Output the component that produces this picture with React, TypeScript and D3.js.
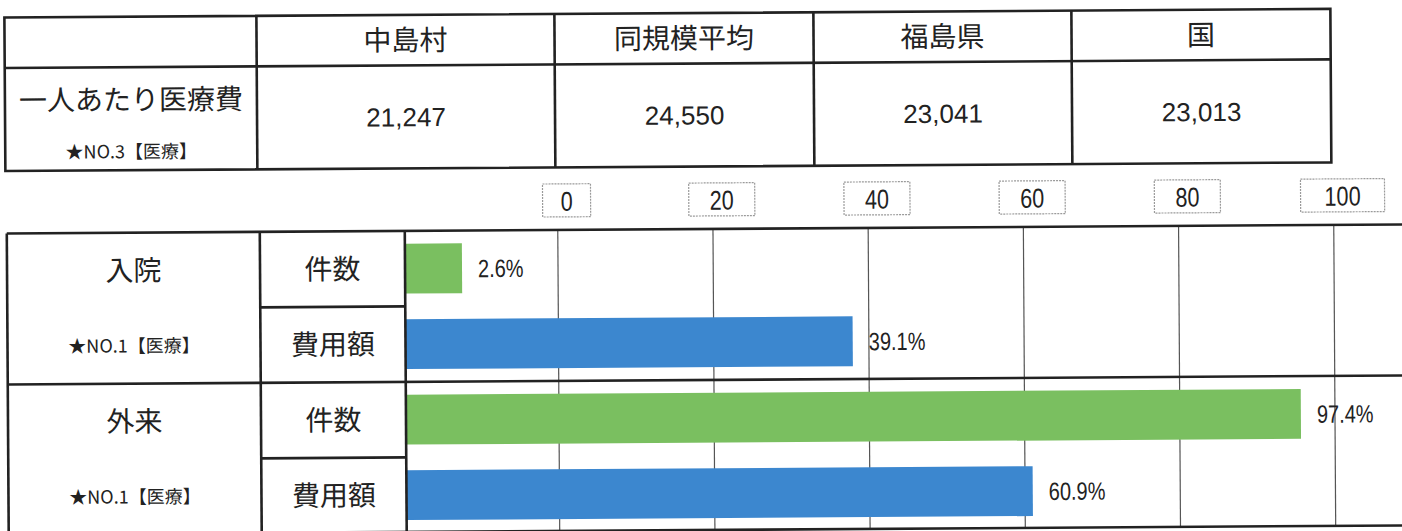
import React from "react";
import * as d3 from "d3";

// ---- data ----
const topColumns = ["中島村", "同規模平均", "福島県", "国"];
const topValues = [21247, 24550, 23041, 23013];
const topRowLabel = "一人あたり医療費";
const topRowRank = "★NO.3【医療】";

const groups = ["入院", "外来"];
const groupRanks = ["★NO.1【医療】", "★NO.1【医療】"];
const measures = ["件数", "費用額"];
const nyuinShares = [2.6, 39.1];
const gairaiShares = [97.4, 60.9];
const axisTicks = [0, 20, 40, 60, 80, 100];

const W = 1402;
const H = 531;
const JP = "'Noto Sans CJK JP', 'Noto Sans', sans-serif";
const NUM = "'Liberation Sans', Arial, sans-serif";
const GREEN = "#7abf60";
const BLUE = "#3c87cf";

function Narrow({ x, y, anchor, size, children }: { x: number; y: number; anchor?: string; size: number; children: any }) {
  return (
    <g transform={`translate(${x},${y}) scale(0.8,1)`}>
      <text x={0} y={0} dy="0.36em" textAnchor={anchor || "start"} fontFamily={NUM} fontSize={size} fill="#222">
        {children}
      </text>
    </g>
  );
}

export default function App() {
  // top table layout
  const colEdges = [6, 258, 556, 815, 1073, 1332];
  const tTop = 13, tHead = 63.5, tBot = 166.5;

  // bottom chart layout
  const bTop = 229, bBot = 530;
  const c0 = 7, c1 = 260, c2 = 405;

  const rows = groups.flatMap((g, gi) =>
    measures.map((m, mi) => ({
      key: g + "-" + m,
      group: g,
      gi,
      measure: m,
      mi,
      value: (gi === 0 ? nyuinShares : gairaiShares)[mi],
    }))
  );

  const y = d3
    .scaleBand<string>()
    .domain(rows.map((r) => r.key))
    .range([bTop, bBot + 1])
    .paddingInner(0.34)
    .paddingOuter(0.17);
  const step = y.step();

  const xBar = d3.scalePow().exponent(0.76).domain([0, 100]).range([c2, 1318]);
  const xAxis = d3.scaleLinear().domain([0, 100]).range([558, 1334]);

  const fmt = d3.format(",");
  const lw = 2.6;

  return (
    <div style={{ position: "absolute", left: 0, top: 0, width: W, height: H, background: "#fff" }}>
      <svg width={W} height={H} style={{ display: "block" }}>
        <rect x={0} y={0} width={W} height={H} fill="#fff" />
        <g transform="rotate(-0.37, 700, 265)">
          {/* ---------- top table ---------- */}
          <g stroke="#222" strokeWidth={lw} fill="none">
            <rect x={colEdges[0]} y={tTop} width={colEdges[5] - colEdges[0]} height={tBot - tTop} />
            <line x1={colEdges[0]} x2={colEdges[5]} y1={tHead} y2={tHead} />
            {colEdges.slice(1, 5).map((x, i) => (
              <line key={i} x1={x} x2={x} y1={tTop} y2={tBot} />
            ))}
          </g>
          {topColumns.map((c, i) => (
            <text
              key={c}
              x={(colEdges[i + 1] + colEdges[i + 2]) / 2}
              y={(tTop + tHead) / 2}
              dy="0.36em"
              textAnchor="middle"
              fontFamily={JP}
              fontSize={28}
              fill="#222"
            >
              {c}
            </text>
          ))}
          {topValues.map((v, i) => (
            <text
              key={i}
              x={(colEdges[i + 1] + colEdges[i + 2]) / 2}
              y={115}
              dy="0.36em"
              textAnchor="middle"
              fontFamily={NUM}
              fontSize={26}
              fill="#222"
            >
              {fmt(v)}
            </text>
          ))}
          <text x={(colEdges[0] + colEdges[1]) / 2} y={96} dy="0.36em" textAnchor="middle" fontFamily={JP} fontSize={28} fill="#222">
            {topRowLabel}
          </text>
          <text x={(colEdges[0] + colEdges[1]) / 2} y={148} dy="0.36em" textAnchor="middle" fontFamily={JP} fontSize={18} fill="#222">
            {topRowRank}
          </text>

          {/* ---------- axis tick boxes ---------- */}
          {axisTicks.map((t) => {
            const s = String(t);
            const bw = 30 + s.length * 18;
            const cx = xAxis(t) + 9;
            return (
              <g key={t}>
                <rect x={cx - bw / 2} y={183} width={bw} height={33} fill="#fff" stroke="#9a9a9a" strokeWidth={1.2} strokeDasharray="2 1" />
                <Narrow x={cx} y={200} anchor="middle" size={27}>
                  {s}
                </Narrow>
              </g>
            );
          })}

          {/* ---------- grid lines ---------- */}
          {axisTicks.map((t) => (
            <line key={"g" + t} x1={xAxis(t)} x2={xAxis(t)} y1={bTop} y2={bBot} stroke="#555" strokeWidth={1.2} />
          ))}

          {/* ---------- bars ---------- */}
          {rows.map((r) => {
            const by = y(r.key) as number;
            const x1 = xBar(r.value);
            return (
              <g key={r.key}>
                <rect x={c2} y={by} width={x1 - c2} height={y.bandwidth()} fill={r.mi === 0 ? GREEN : BLUE} />
                <Narrow x={x1 + 16} y={by + y.bandwidth() / 2} size={25}>
                  {r.value.toFixed(1)}%
                </Narrow>
              </g>
            );
          })}

          {/* ---------- bottom table lines ---------- */}
          <g stroke="#222" strokeWidth={lw} fill="none">
            <line x1={c0} x2={W + 20} y1={bTop} y2={bTop} />
            <line x1={c0} x2={W + 20} y1={bTop + 2 * step} y2={bTop + 2 * step} />
            <line x1={c0} x2={W + 20} y1={bBot} y2={bBot} />
            <line x1={c0} x2={c0} y1={bTop} y2={bBot} />
            <line x1={c1} x2={c1} y1={bTop} y2={bBot} />
            <line x1={c2} x2={c2} y1={bTop} y2={bBot} />
            <line x1={c1} x2={c2} y1={bTop + step} y2={bTop + step} />
            <line x1={c1} x2={c2} y1={bTop + 3 * step} y2={bTop + 3 * step} />
          </g>

          {/* ---------- bottom table labels ---------- */}
          {rows.map((r) => {
            const cy = (y(r.key) as number) + y.bandwidth() / 2;
            return (
              <g key={"l" + r.key}>
                <text x={(c1 + c2) / 2} y={cy} dy="0.36em" textAnchor="middle" fontFamily={JP} fontSize={28} fill="#222">
                  {r.measure}
                </text>
                <text
                  x={(c0 + c1) / 2}
                  y={cy}
                  dy="0.36em"
                  textAnchor="middle"
                  fontFamily={JP}
                  fontSize={r.mi === 0 ? 28 : 18}
                  fill="#222"
                >
                  {r.mi === 0 ? r.group : groupRanks[r.gi]}
                </text>
              </g>
            );
          })}
        </g>
      </svg>
    </div>
  );
}
